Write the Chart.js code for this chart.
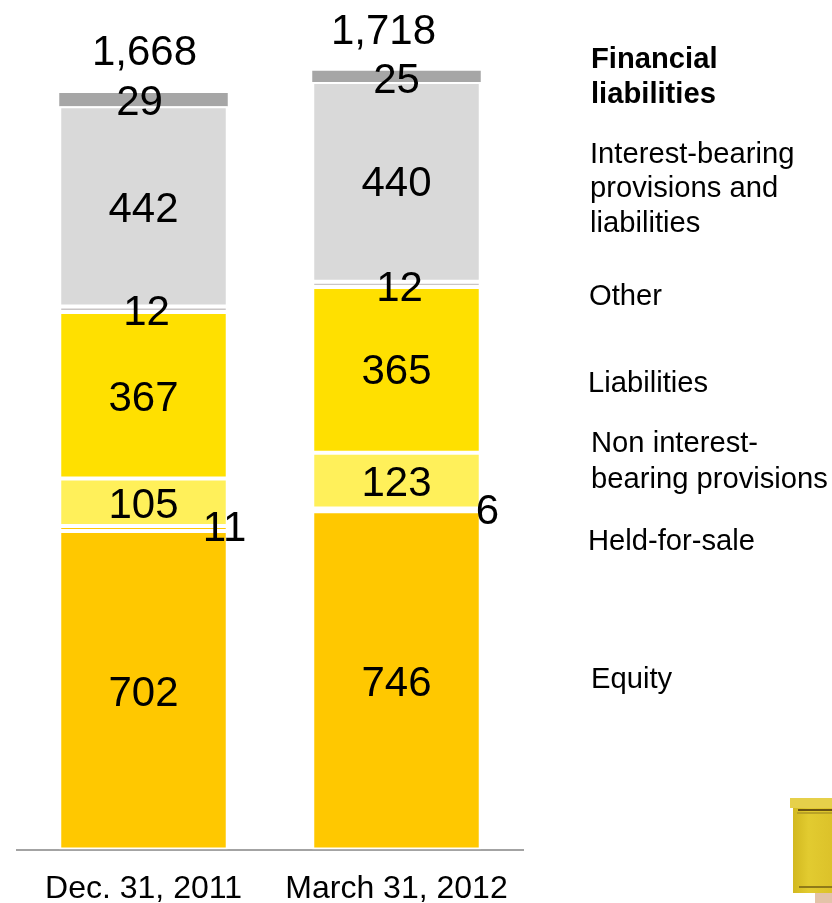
<!DOCTYPE html>
<html>
<head>
<meta charset="utf-8">
<title>Financial liabilities</title>
<script src="https://cdn.jsdelivr.net/npm/chart.js@4"></script>
<style>
  html, body { margin: 0; padding: 0; background: #fff; overflow: hidden; }
  #wrap { position: relative; width: 832px; height: 903px; }
</style>
</head>
<body>
<div id="wrap"><canvas id="chart"></canvas></div>
<script>
const dates = ['Dec. 31, 2011', 'March 31, 2012'];
const totals = ['1,668', '1,718'];
const equity = [702, 746];
const heldForSale = [11, 6];
const nonInterest = [105, 123];
const liabilities = [367, 365];
const other = [12, 12];
const interestBearing = [442, 440];
const financial = [29, 25];

const FONT = '"Liberation Sans", Arial, sans-serif';

// bottom to top; nudge moves each bar's number away from the segment centre
const series = [
  { label: 'Equity', data: equity, color: '#ffc800', nudge: [[0, 4], [0, 4]] },
  { label: 'Held-for-sale', data: heldForSale, color: '#ffc800', nudge: [[81, 1], [91, 3]] },
  { label: 'Non interest-bearing provisions', data: nonInterest, color: '#fff05a', nudge: [[0, 4], [0, 4]] },
  { label: 'Liabilities', data: liabilities, color: '#ffe000', nudge: [[0, 4], [0, 3]] },
  { label: 'Other', data: other, color: '#c9c5c5', nudge: [[3, 4], [3, 5]] },
  { label: 'Interest-bearing provisions and liabilities', data: interestBearing, color: '#d9d9d9', nudge: [[0, 4], [0, 3]] },
  { label: 'Financial liabilities', data: financial, color: '#a6a6a6', nudge: [[-4, 4], [0, 5]], flat: true }
];
const totalNudge = [[1, -40], [-13, -38]];

// right hand column, wrapped by hand
const sideLabels = [
  { lines: ['Financial', 'liabilities'], x: 591, y: [60, 95], bold: true },
  { lines: ['Interest-bearing', 'provisions and', 'liabilities'], x: 590, y: [155, 189, 224] },
  { lines: ['Other'], x: 589, y: [297] },
  { lines: ['Liabilities'], x: 588, y: [384] },
  { lines: ['Non interest-', 'bearing provisions'], x: 591, y: [444, 480] },
  { lines: ['Held-for-sale'], x: 588, y: [542] },
  { lines: ['Equity'], x: 591, y: [680] }
];

const barLabels = {
  id: 'barLabels',
  afterDatasetsDraw(chart) {
    const ctx = chart.ctx;
    ctx.save();
    ctx.fillStyle = '#000';
    ctx.font = '42px ' + FONT;
    ctx.textAlign = 'center';
    ctx.textBaseline = 'middle';
    series.forEach((s, i) => {
      chart.getDatasetMeta(i).data.forEach((bar, j) => {
        const mid = (bar.y + bar.base) / 2;
        ctx.fillText(String(s.data[j]), bar.x + s.nudge[j][0], mid + s.nudge[j][1]);
      });
    });
    // totals sit above the top segment
    const top = chart.getDatasetMeta(series.length - 1).data;
    top.forEach((bar, j) => {
      ctx.fillText(totals[j], bar.x + totalNudge[j][0], bar.y + totalNudge[j][1]);
    });
    ctx.restore();
  }
};

const sideText = {
  id: 'sideText',
  afterDraw(chart) {
    const ctx = chart.ctx;
    ctx.save();
    ctx.fillStyle = '#000';
    ctx.textAlign = 'left';
    ctx.textBaseline = 'middle';
    sideLabels.forEach((item) => {
      ctx.font = (item.bold ? 'bold ' : '') + '29.2px ' + FONT;
      item.lines.forEach((line, k) => ctx.fillText(line, item.x, item.y[k]));
    });
    ctx.restore();
  }
};

// yellow post box in the corner
const postBox = {
  id: 'postBox',
  afterDraw(chart) {
    const ctx = chart.ctx;
    ctx.save();
    ctx.filter = 'blur(0.7px)';
    ctx.fillStyle = '#e3c3a8';
    ctx.fillRect(815, 892, 17, 11);
    const body = ctx.createLinearGradient(793, 0, 832, 0);
    body.addColorStop(0, '#d2b81f');
    body.addColorStop(0.4, '#e2cb30');
    body.addColorStop(1, '#dcc22a');
    ctx.fillStyle = body;
    ctx.fillRect(793, 808, 39, 85);
    ctx.fillStyle = '#e6d04a';
    ctx.fillRect(790, 798, 42, 10);
    ctx.fillStyle = '#6b5310';
    ctx.fillRect(798, 809, 34, 2);
    ctx.fillStyle = '#b9a226';
    ctx.fillRect(797, 812, 35, 2);
    ctx.fillStyle = '#8f7a18';
    ctx.fillRect(799, 886, 33, 2);
    ctx.restore();
  }
};

new Chart(document.getElementById('chart'), {
  type: 'bar',
  data: {
    labels: dates,
    datasets: series.map((s) => ({
      label: s.label,
      data: s.data,
      backgroundColor: s.color,
      borderColor: '#fff',
      borderWidth: s.flat ? 0 : 2,
      borderSkipped: false,
      inflateAmount: 0,
      barPercentage: 0.666,
      categoryPercentage: 1
    }))
  },
  options: {
    responsive: true,
    maintainAspectRatio: false,
    animation: false,
    layout: { padding: { left: 17, right: 309, top: 0, bottom: 0 } },
    plugins: {
      legend: { display: false },
      tooltip: { enabled: false }
    },
    scales: {
      x: {
        stacked: true,
        grid: { display: false, drawTicks: false },
        border: { color: '#a3a3a3', width: 2 },
        afterFit(scale) { scale.height = 53.5; },
        ticks: {
          color: '#000',
          font: { family: FONT, size: 32 },
          padding: 20.5,
          autoSkip: false,
          maxRotation: 0,
          minRotation: 0
        }
      },
      y: {
        stacked: true,
        display: false,
        min: 0,
        max: 1873
      }
    }
  },
  plugins: [barLabels, sideText, postBox]
});
</script>
</body>
</html>
